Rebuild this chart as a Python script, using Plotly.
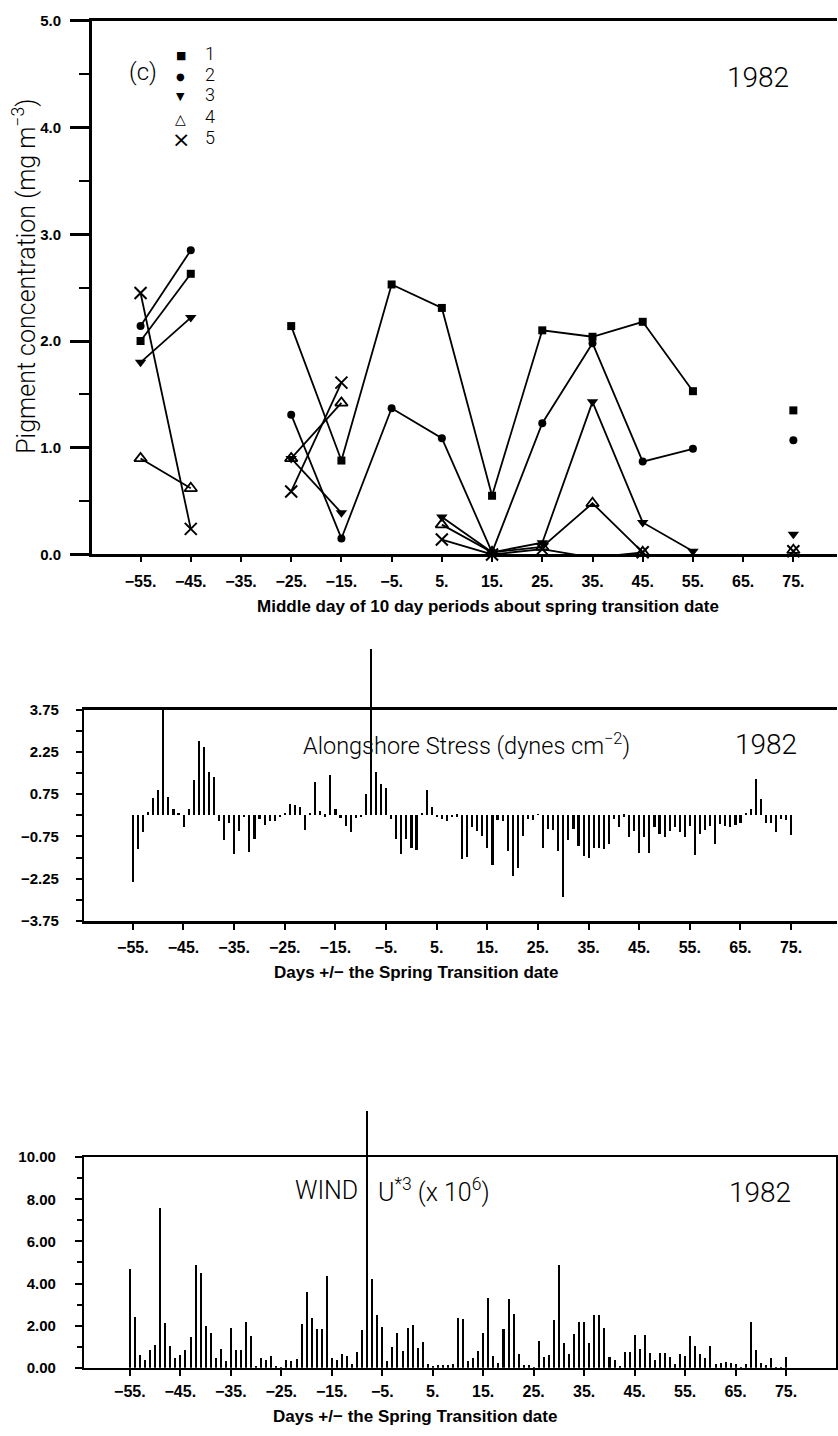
import plotly.graph_objects as go

W, H = 838, 1436

# ---------------- Pigment concentration (10-day period means) ----------------
period_mid = [-55, -45, -35, -25, -15, -5, 5, 15, 25, 35, 45, 55, 65, 75]
pig_1 = [2.00, 2.63, None, 2.14, 0.88, 2.53, 2.31, 0.55, 2.10, 2.04, 2.18, 1.53, None, 1.35]
pig_2 = [2.14, 2.85, None, 1.31, 0.15, 1.37, 1.09, 0.02, 1.23, 1.98, 0.87, 0.99, None, 1.07]
pig_3 = [1.80, 2.22, None, 0.90, 0.39, None, 0.35, 0.02, 0.11, 1.43, 0.30, 0.03, None, 0.19]
pig_4 = [0.90, 0.62, None, 0.90, 1.42, None, 0.28, 0.02, 0.07, 0.48, 0.02, None, None, 0.04]
pig_5 = [2.45, 0.24, None, 0.59, 1.61, None, 0.14, 0.00, 0.05, -0.03, 0.02, None, None, 0.03]
station_names = ["1", "2", "3", "4", "5"]

# ---------------- Daily alongshore wind stress (dynes cm^-2) ----------------
stress_day = list(range(-55, 76))
stress = [
    -2.37, -1.20, -0.60, 0.12, 0.61, 0.87, 3.75, 0.64, 0.20, 0.05,
    -0.44, 0.20, 1.25, 2.63, 2.42, 1.52, 1.33, -0.21, -0.89, -0.27,
    -1.38, -0.58, -0.09, -1.33, -0.87, -0.15, -0.35, -0.21, -0.23, -0.09,
    0.08, 0.40, 0.35, 0.28, -0.54, 0.08, 1.16, 0.14, -0.07, 1.40,
    0.20, -0.12, -0.39, -0.62, -0.12, -0.09, 0.73,
    5.90,
    1.52, 1.11, 0.94, -0.15, -0.85, -1.37, -0.85, -1.17, -1.23, 0.04,
    0.88, 0.29, -0.08, -0.15, -0.20, -0.08, -0.06, -1.56, -1.49, -0.43,
    -0.58, -0.76, -1.17, -1.79, -0.18, -0.23, -1.29, -2.16, -1.87, -0.74,
    -0.15, -0.18, 0.02, -1.17, -0.50, -0.53, -1.29, -2.92, -0.88, -0.50,
    -1.11, -1.46, -1.53, -1.17, -1.17,
    -1.20, -1.03, -0.15, -0.42, -0.07, -0.77, -0.56, -1.36, -0.80, -1.35,
    -0.44, -0.68, -0.77, -0.56, -0.44, -0.62, -0.80, -0.39, -1.42, -0.68,
    -0.54, -0.39, -1.03, -0.33, -0.39, -0.42, -0.35, -0.27, 0.08, 0.20,
    1.28, 0.55, -0.27, -0.30, -0.62, -0.15, -0.19, -0.70,
]

# ---------------- Daily wind U*^3 (x 10^6) ----------------
wind_day = list(range(-55, 76))
wind = [
    4.69, 2.42, 0.59, 0.39, 0.83, 1.09, 7.60, 2.14, 1.02, 0.47,
    0.59, 0.86, 1.48, 4.89, 4.48, 1.98, 1.67, 0.47, 0.89, 0.31,
    1.90, 0.83, 0.83, 2.19, 1.52, 0.05, 0.47, 0.36, 0.55, 0.10,
    0.02, 0.39, 0.31, 0.42, 2.10, 3.59, 2.34, 1.86, 1.86, 4.38,
    0.47, 0.36, 0.66, 0.58, 0.16, 0.73, 1.77, 12.2, 4.22, 2.50,
    1.95, 0.31, 0.98, 1.67, 0.78, 1.88, 2.03, 0.94, 1.20, 0.20,
    0.05, 0.11, 0.14, 0.14, 0.20,
    2.38, 2.30, 0.34, 0.44, 0.78, 1.64, 3.31, 0.58, 0.23, 1.84,
    3.28, 2.53, 0.63, 0.13, 0.13, 0.03, 1.28, 0.50, 0.59, 2.27,
    4.88, 1.16, 0.63, 1.59, 2.16, 2.16, 1.16, 2.50, 2.50, 1.91,
    0.50, 0.39, 0.05, 0.75, 0.75, 1.56, 0.91, 1.56, 0.69, 0.38,
    0.69, 0.72, 0.50, 0.19, 0.63, 0.55, 1.53, 1.02, 0.67, 0.47,
    1.05, 0.19, 0.23, 0.28, 0.23, 0.16, 0.03, 0.19, 2.16, 0.86,
    0.23, 0.13, 0.44, 0.03, 0.03, 0.53,
]

tick_days = [-55, -45, -35, -25, -15, -5, 5, 15, 25, 35, 45, 55, 65, 75]
tick_text = [("\u2212" if d < 0 else "") + f"{abs(d)}." for d in tick_days]


def px(x):
    return x / W


def py(y):
    return 1 - y / H


INK = "black"
TICK_FONT = dict(family="Liberation Sans Narrow, Liberation Sans, Arial", size=16,
                 color=INK, weight="bold")
YTICK_FONT = dict(family="Liberation Sans, Arial", size=15, color=INK, weight="bold")
THIN_FONT = "Roboto, Lato, Liberation Sans, sans-serif"
BOLD_FAMILY = "Liberation Sans Narrow, Liberation Sans, Arial"

# panel frames in pixels (left, right, top, bottom)
TOP = dict(l=92, r=838, t=12, b=552)
MID = dict(l=84, r=838, t=709, b=923)
BOT = dict(l=84, r=837, t=1162, b=1375)
MID_YMIN, MID_YMAX = -3.75, 3.75
BOT_YMIN, BOT_YMAX = 0.0, 10.0
# the bar layers reach above their frames (daily extremes run off the scale)
MID_BAR_TOP = 640
BOT_BAR_TOP = 1100
mid_ext = MID_YMAX + (MID["t"] - MID_BAR_TOP) * (MID_YMAX - MID_YMIN) / (MID["b"] - MID["t"])
bot_ext = BOT_YMAX + (BOT["t"] - BOT_BAR_TOP) * (BOT_YMAX - BOT_YMIN) / (BOT["b"] - BOT["t"])

fig = go.Figure()

# pigment series: lines with markers, gaps break the line
series = [
    (pig_1, dict(symbol="square", size=8, color=INK)),
    (pig_2, dict(symbol="circle", size=8, color=INK)),
    (pig_3, dict(symbol="triangle-down", size=10, color=INK)),
    (pig_4, dict(symbol="triangle-up-open", size=11, color=INK, line=dict(width=1.8, color=INK))),
    (pig_5, dict(symbol="x-thin-open", size=12, color=INK, line=dict(width=2, color=INK))),
]
for name, (vals, mk) in zip(station_names, series):
    fig.add_trace(go.Scatter(
        x=period_mid, y=vals, mode="lines+markers", name=name,
        line=dict(color=INK, width=1.8), marker=mk, cliponaxis=False,
        xaxis="x", yaxis="y", showlegend=False,
    ))

# empty placeholders so the framed stress and wind axes are laid out
for xa, ya in (("x2", "y2"), ("x3", "y3")):
    fig.add_trace(go.Scatter(x=[None], y=[None], mode="markers", xaxis=xa, yaxis=ya,
                             showlegend=False, hoverinfo="skip"))

fig.add_trace(go.Bar(
    x=stress_day, y=stress, width=0.42, xaxis="x4", yaxis="y4",
    marker=dict(color=INK, line=dict(width=0)), showlegend=False,
))
fig.add_trace(go.Bar(
    x=wind_day, y=wind, width=0.40, xaxis="x5", yaxis="y5",
    marker=dict(color=INK, line=dict(width=0)), showlegend=False,
))

common_x = dict(showgrid=False, zeroline=False, showline=True, linecolor=INK,
                tickmode="array", tickvals=tick_days, ticktext=tick_text,
                ticks="outside", tickcolor=INK, tickfont=TICK_FONT, mirror=True)
common_y = dict(showgrid=False, zeroline=False, showline=True, linecolor=INK,
                ticks="outside", tickcolor=INK, tickfont=YTICK_FONT)
hidden = dict(visible=False, showgrid=False, zeroline=False, fixedrange=True)

mid_xrange = [-64.67, 84.07]
bot_xrange = [-64.10, 84.89]

fig.update_layout(
    width=W, height=H, margin=dict(l=0, r=0, t=0, b=0),
    paper_bgcolor="white", plot_bgcolor="rgba(0,0,0,0)", bargap=0,
    xaxis=dict(common_x, domain=[px(TOP["l"]), px(TOP["r"])], range=[-64.69, 83.69],
               anchor="y", linewidth=2.5, ticklen=5, tickwidth=2, ticklabelstandoff=6),
    yaxis=dict(common_y, domain=[py(TOP["b"]), py(TOP["t"])], range=[0, 5], anchor="x",
               linewidth=2.5, tick0=0, dtick=1, tickformat=".1f", ticklen=19,
               tickwidth=2.5, ticklabelstandoff=6,
               minor=dict(dtick=0.5, ticks="outside", ticklen=10, tickwidth=2, tickcolor=INK)),
    xaxis2=dict(common_x, domain=[px(MID["l"]), px(MID["r"])], range=mid_xrange,
                anchor="y2", linewidth=2.5, ticklen=6, tickwidth=2, ticklabelstandoff=4),
    yaxis2=dict(common_y, domain=[py(MID["b"]), py(MID["t"])], range=[MID_YMIN, MID_YMAX],
                anchor="x2", linewidth=2, tick0=-3.75, dtick=1.5, tickformat=".2f",
                ticklen=6, tickwidth=2, ticklabelstandoff=14,
                minor=dict(dtick=0.75, ticks="outside", ticklen=6, tickwidth=2, tickcolor=INK)),
    xaxis3=dict(common_x, domain=[px(BOT["l"]), px(BOT["r"])], range=bot_xrange,
                anchor="y3", linewidth=2, ticklen=6, tickwidth=2, ticklabelstandoff=2),
    yaxis3=dict(common_y, domain=[py(BOT["b"]), py(BOT["t"])], range=[BOT_YMIN, BOT_YMAX],
                anchor="x3", linewidth=2, mirror=True, tick0=0, dtick=2, tickformat=".2f",
                ticklen=7, tickwidth=2, ticklabelstandoff=16,
                minor=dict(dtick=1, ticks="outside", ticklen=5, tickwidth=2, tickcolor=INK)),
    # bar layers sharing the frames' scales but with room above the frames
    xaxis4=dict(hidden, domain=[px(MID["l"]), px(MID["r"])], range=mid_xrange, anchor="y4"),
    yaxis4=dict(hidden, domain=[py(MID["b"]), py(MID_BAR_TOP)], range=[MID_YMIN, mid_ext],
                anchor="x4"),
    xaxis5=dict(hidden, domain=[px(BOT["l"]), px(BOT["r"])], range=bot_xrange, anchor="y5"),
    yaxis5=dict(hidden, domain=[py(BOT["b"]), py(BOT_BAR_TOP)], range=[BOT_YMIN, bot_ext],
                anchor="x5"),
)

ann = []


def text(x, y, s, size, family=THIN_FONT, weight=300, angle=0, xanchor="center"):
    ann.append(dict(x=px(x), y=py(y), xref="paper", yref="paper", text=s,
                    showarrow=False, xanchor=xanchor, yanchor="middle", textangle=angle,
                    font=dict(family=family, size=size, color=INK, weight=weight)))


# panel (c) key
text(143, 64, "(c)", 24)
key_symbols = ["\u25A0", "\u25CF", "\u25BC", "\u25B3", "\u00D7"]
key_sizes = [11, 10, 11, 14, 22]
key_y = [47, 68, 89, 111, 132]
for sym, sz, yy, nm in zip(key_symbols, key_sizes, key_y, station_names):
    text(181, yy, sym, sz, family="DejaVu Sans", weight=400)
    text(210, yy - 2, nm, 18)

text(759, 69, "1982", 28)
text(25, 270, "Pigment concentration (mg m<sup>\u22123</sup>)", 25, angle=-90)
text(489, 605, "Middle day of 10 day periods about spring transition date", 17,
     family=BOLD_FAMILY, weight="bold")

text(467, 744, "Alongshore Stress (dynes cm<sup>\u22122</sup>)", 23.5)
text(767, 744, "1982", 28)
text(416, 975, "Days +/\u2212 the Spring Transition date", 17,
     family=BOLD_FAMILY, weight="bold")

text(327, 1196, "WIND", 25)
text(376, 1196, "U<sup>*3</sup> (x 10<sup>6</sup>)", 25, xanchor="left")
text(761, 1198, "1982", 28)
text(415, 1424, "Days +/\u2212 the Spring Transition date", 17,
     family=BOLD_FAMILY, weight="bold")

fig.update_layout(annotations=ann)

fig.write_html("out.html")
